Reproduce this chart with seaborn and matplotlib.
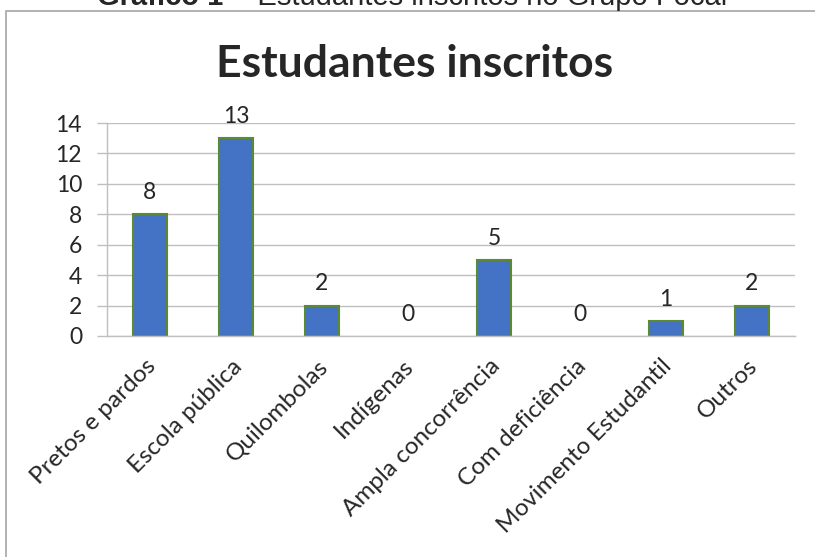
import matplotlib
matplotlib.use("Agg")
import matplotlib.pyplot as plt
from matplotlib.patches import Rectangle
import matplotlib.transforms as mtransforms
import seaborn as sns

categories = ["Pretos e pardos", "Escola pública", "Quilombolas", "Indígenas",
              "Ampla concorrência", "Com deficiência", "Movimento Estudantil", "Outros"]
values = [8, 13, 2, 0, 5, 0, 1, 2]
yticks = [0, 2, 4, 6, 8, 10, 12, 14]

sns.set_theme(style="white")
plt.rcParams['font.family'] = ['Lato', 'DejaVu Sans']

W, H = 815, 557
fig = plt.figure(figsize=(W / 100, H / 100), dpi=100)
fig.patch.set_facecolor("white")

# outer chart frame
fig.patches.append(Rectangle((5.5 / W, -0.1), 1.2, 1 - 11 / H + 0.1, transform=fig.transFigure,
                             fill=False, edgecolor="#A6A6A6", linewidth=1.2))

ax = fig.add_axes([107 / W, 1 - 336 / H, (795 - 107) / W, (336 - 123) / H])
sns.barplot(x=categories, y=values, color="#4472C4", edgecolor="#5B8A32",
            linewidth=1.5, width=0.4, saturation=1, ax=ax)
for p in ax.patches:
    if p.get_height() == 0:
        p.set_linewidth(0)

ax.set_ylim(0, 14)
ax.set_xlim(-0.5, len(categories) - 0.5)
ax.set_yticks(yticks)
ax.set_yticklabels([str(t) for t in yticks], fontsize=16.5)
ax.yaxis.grid(True, color="#BFBFBF", linewidth=1)
ax.set_axisbelow(True)
for s in ["top", "right"]:
    ax.spines[s].set_visible(False)
for s in ["bottom", "left"]:
    ax.spines[s].set_color("#BFBFBF")
    ax.spines[s].set_linewidth(1)

# category boundary ticks
ax.set_xticks([i - 0.5 for i in range(len(categories) + 1)], minor=True)
ax.tick_params(axis="x", which="minor", length=6, color="#BFBFBF", width=1, direction="out")
ax.tick_params(axis="x", which="major", length=0, pad=14)
ax.tick_params(axis="y", length=7, color="#BFBFBF", width=1, left=True, pad=11)
ax.set_xticks(range(len(categories)))
ax.set_xticklabels(categories, rotation=45, ha="right", rotation_mode="anchor", fontsize=17.5)
shift = mtransforms.ScaledTranslation(-5 / 100, 0, fig.dpi_scale_trans)
for lbl in ax.get_xticklabels():
    lbl.set_transform(lbl.get_transform() + shift)
ax.set_xlabel("")
ax.set_ylabel("")

ax.bar_label(ax.containers[0], labels=[str(v) for v in values], padding=8, fontsize=16.5)

fig.text(415 / W, 1 - 64 / H, "Estudantes inscritos", ha="center", va="center",
         fontsize=32, fontweight="bold")

# cropped figure caption at the top
fig.text(223 / W, 1 - 5 / H, "Gráfico 1", ha="right", va="baseline", fontsize=21,
         fontweight="bold", family=["Liberation Sans", "DejaVu Sans"])
fig.text(233 / W, 1 - 5 / H, "– Estudantes inscritos no Grupo Focal", ha="left", va="baseline",
         fontsize=21, family=["Liberation Sans", "DejaVu Sans"])

fig.savefig("out.png", dpi=100)
